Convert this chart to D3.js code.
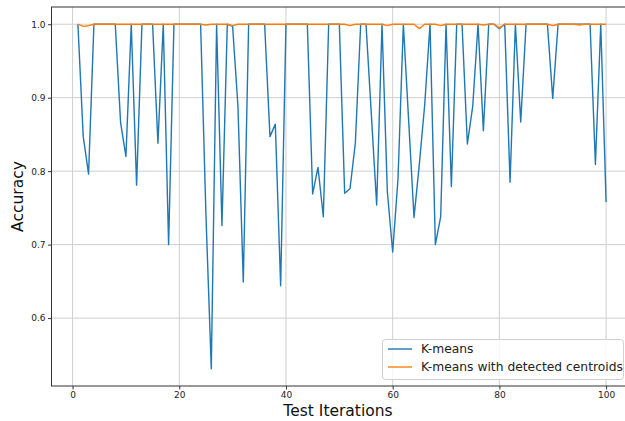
<!DOCTYPE html>
<html>
<head>
<meta charset="utf-8">
<script src="https://cdn.jsdelivr.net/npm/d3@7"></script>
<style>
  html, body { margin: 0; padding: 0; background: #fff; }
  svg { display: block; font-family: "DejaVu Sans", sans-serif; }
</style>
</head>
<body>
<svg id="chart" width="625" height="421"></svg>
<script>
const iterations = d3.range(1, 101);
const kmeans = [
  1.0, 0.847, 0.796, 1.0, 1.0, 1.0, 1.0, 1.0, 0.866, 0.820,
  1.0, 0.781, 1.0, 1.0, 1.0, 0.838, 1.0, 0.700, 1.0, 1.0,
  1.0, 1.0, 1.0, 1.0, 0.740, 0.531, 1.0, 0.726, 1.0, 0.997,
  0.888, 0.649, 1.0, 1.0, 1.0, 1.0, 0.847, 0.864, 0.644, 1.0,
  1.0, 1.0, 1.0, 1.0, 0.769, 0.805, 0.738, 1.0, 1.0, 1.0,
  0.770, 0.776, 0.838, 1.0, 1.0, 0.877, 0.754, 1.0, 0.772, 0.690,
  0.790, 1.0, 0.868, 0.737, 0.810, 0.890, 1.0, 0.700, 0.738, 1.0,
  0.779, 1.0, 1.0, 0.837, 0.888, 1.0, 0.855, 1.0, 1.0, 0.994,
  1.0, 0.785, 1.0, 0.867, 1.0, 1.0, 1.0, 1.0, 1.0, 0.899,
  1.0, 1.0, 1.0, 1.0, 1.0, 1.0, 1.0, 0.809, 1.0, 0.758
];
const kmeansDetected = [
  1.0, 0.997, 0.998, 1.0, 1.0, 1.0, 1.0, 1.0, 1.0, 1.0,
  1.0, 1.0, 1.0, 1.0, 1.0, 1.0, 1.0, 1.0, 1.0, 1.0,
  1.0, 1.0, 1.0, 1.0, 0.999, 1.0, 1.0, 1.0, 1.0, 0.998,
  1.0, 1.0, 1.0, 1.0, 1.0, 1.0, 1.0, 1.0, 1.0, 1.0,
  1.0, 1.0, 1.0, 1.0, 1.0, 1.0, 1.0, 1.0, 1.0, 1.0,
  1.0, 0.998, 1.0, 1.0, 1.0, 1.0, 1.0, 1.0, 0.998, 1.0,
  1.0, 1.0, 1.0, 1.0, 0.994, 1.0, 1.0, 1.0, 0.998, 1.0,
  1.0, 1.0, 1.0, 1.0, 1.0, 1.0, 0.999, 1.0, 1.0, 0.995,
  1.0, 1.0, 1.0, 1.0, 1.0, 1.0, 1.0, 1.0, 1.0, 0.998,
  1.0, 1.0, 1.0, 1.0, 0.999, 1.0, 1.0, 1.0, 1.0, 1.0
];
const seriesNames = ["K-means", "K-means with detected centroids"];
const seriesColors = ["#1f77b4", "#ff7f0e"];
const xTicks = [0, 20, 40, 60, 80, 100];
const yTicks = [0.6, 0.7, 0.8, 0.9, 1.0];

(function () {
const svg = d3.select("#chart");
const pL = 51.5, pR = 632.5, pT = 7, pB = 386;

const xPad = (100 - 1) * 0.05;
const x = d3.scaleLinear().domain([1 - xPad, 100 + xPad]).range([pL, pR]);
const all = kmeans.concat(kmeansDetected);
const yMin = d3.min(all), yMax = d3.max(all);
const yPad = (yMax - yMin) * 0.05;
const y = d3.scaleLinear().domain([yMin - yPad, yMax + yPad]).range([pB, pT]);

// grid
const grid = svg.append("g");
grid.selectAll("line.gx").data(xTicks).join("line")
  .attr("x1", d => x(d)).attr("x2", d => x(d))
  .attr("y1", pT).attr("y2", pB)
  .attr("stroke", "#cfcfcf").attr("stroke-width", 1);
grid.selectAll("line.gy").data(yTicks).join("line")
  .attr("x1", pL).attr("x2", pR)
  .attr("y1", d => y(d)).attr("y2", d => y(d))
  .attr("stroke", "#cfcfcf").attr("stroke-width", 1);

// lines
const line = d3.line().x((d, i) => x(iterations[i])).y(d => y(d));
[kmeans, kmeansDetected].forEach((s, k) => {
  svg.append("path").datum(s)
    .attr("d", line)
    .attr("fill", "none")
    .attr("stroke", seriesColors[k])
    .attr("stroke-width", 1.4)
    .attr("stroke-linejoin", "round");
});

// axes
const xAxis = d3.axisBottom(x).tickValues(xTicks).tickFormat(d3.format("d")).tickSize(3.5).tickPadding(2.5);
const yAxis = d3.axisLeft(y).tickValues(yTicks).tickFormat(d3.format(".1f")).tickSize(3.5).tickPadding(2.5);
const gx = svg.append("g").attr("transform", `translate(0,${pB})`).call(xAxis);
const gy = svg.append("g").attr("transform", `translate(${pL},0)`).call(yAxis);
[gx, gy].forEach(g => {
  g.select(".domain").remove();
  g.selectAll(".tick line").attr("stroke", "#333");
  g.selectAll(".tick text").attr("fill", "#222").style("font-size", "9px").style("font-family", "DejaVu Sans");
});

// spines
svg.append("rect")
  .attr("x", pL).attr("y", pT)
  .attr("width", pR - pL).attr("height", pB - pT)
  .attr("fill", "none").attr("stroke", "#333").attr("stroke-width", 1);

// axis labels
svg.append("text").attr("x", 338).attr("y", 416)
  .attr("text-anchor", "middle").style("font-size", "15.5px").attr("fill", "#111")
  .text("Test Iterations");
svg.append("text")
  .attr("transform", `translate(23,${(pT + pB) / 2}) rotate(-90)`)
  .attr("text-anchor", "middle").style("font-size", "15.5px").attr("fill", "#111")
  .text("Accuracy");

// legend
const lg = svg.append("g");
lg.append("rect").attr("x", 382.5).attr("y", 339.5).attr("width", 241).attr("height", 40)
  .attr("rx", 3).attr("fill", "#fff").attr("fill-opacity", 0.8)
  .attr("stroke", "#d0d0d0").attr("stroke-width", 1);
seriesNames.forEach((n, i) => {
  const yy = 349 + i * 18;
  lg.append("line").attr("x1", 388).attr("x2", 412).attr("y1", yy).attr("y2", yy)
    .attr("stroke", seriesColors[i]).attr("stroke-width", 1.4);
  lg.append("text").attr("x", 421).attr("y", yy + 4.4)
    .style("font-size", "12.3px").attr("fill", "#222").text(n);
});
})();
</script>
</body>
</html>
